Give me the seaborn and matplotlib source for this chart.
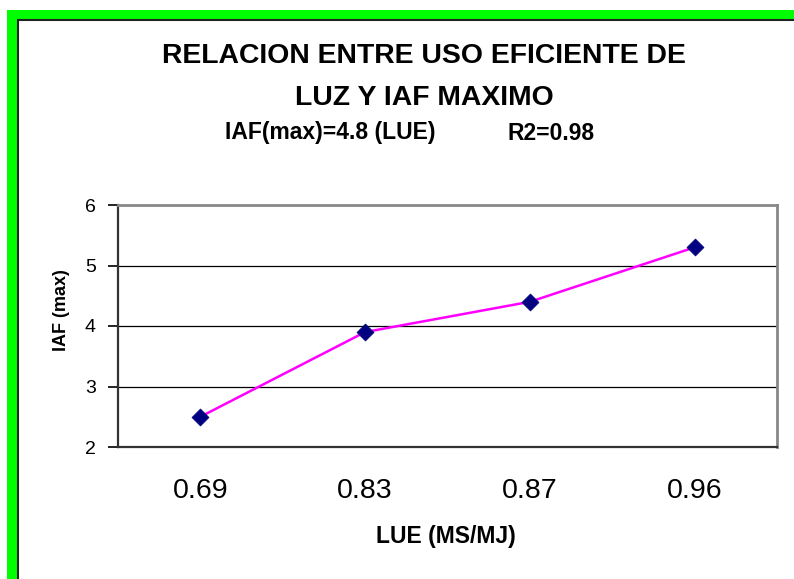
import matplotlib
matplotlib.use("Agg")
import matplotlib.pyplot as plt
from matplotlib.patches import Rectangle
from matplotlib.ticker import FixedLocator
import seaborn as sns
import pandas as pd

# Data
lue_labels = ["0.69", "0.83", "0.87", "0.96"]
iaf_max = [2.5, 3.9, 4.4, 5.3]
y_ticks = [2, 3, 4, 5, 6]

sns.set_style("white")
plt.rcParams["font.family"] = ["Liberation Sans", "DejaVu Sans"]
plt.rcParams["text.color"] = "black"
plt.rcParams["axes.labelcolor"] = "black"
plt.rcParams["xtick.color"] = "black"
plt.rcParams["ytick.color"] = "black"

df = pd.DataFrame({"LUE": lue_labels, "IAF": iaf_max})

W, H = 794, 579
fig = plt.figure(figsize=(W / 100, H / 100), dpi=100)
fig.patch.set_facecolor("white")

def fx(px):
    return px / W

def fy(py):
    return 1 - py / H

# Green frame with dark inner edge
fig.patches.append(Rectangle((fx(7), fy(600)), fx(820) - fx(7), fy(10) - fy(600),
                             transform=fig.transFigure, facecolor="#00FF00",
                             edgecolor="none", zorder=0))
fig.patches.append(Rectangle((fx(17.5), fy(600)), fx(820) - fx(17.5), fy(19.5) - fy(600),
                             transform=fig.transFigure, facecolor="white",
                             edgecolor="#222222", linewidth=1.5, zorder=1))

ax = fig.add_axes([fx(118), fy(447), fx(777) - fx(118), fy(205) - fy(447)])
ax.set_zorder(2)
ax.patch.set_facecolor("white")

sns.lineplot(data=df, x="LUE", y="IAF", color="#FF00FF", linewidth=1.8, ax=ax,
             zorder=3, sort=False)
sns.scatterplot(data=df, x="LUE", y="IAF", color="#000080", marker="D", s=75,
                edgecolor="#000080", linewidth=0.5, ax=ax, zorder=4)

ax.set_xlim(-0.5, len(lue_labels) - 0.5)
ax.set_ylim(2, 6)
ax.set_yticks(y_ticks)
ax.set_yticklabels([str(v) for v in y_ticks], fontsize=14)

# Category labels centred, tick marks on category boundaries
ax.set_xticks(range(len(lue_labels)))
ax.set_xticklabels(lue_labels, fontsize=20.5)
ax.xaxis.set_minor_locator(FixedLocator([i - 0.5 for i in range(len(lue_labels) + 1)]))
ax.tick_params(axis="x", which="major", length=0, pad=22)
ax.tick_params(axis="x", which="minor", length=7, width=1.2, color="black", direction="out")
ax.tick_params(axis="y", which="major", length=7, width=1.2, color="black",
               direction="out", pad=9, left=True)

for y in [3, 4, 5]:
    ax.axhline(y, color="black", linewidth=0.9, zorder=1)

for side in ["left", "bottom"]:
    ax.spines[side].set_color("#333333")
    ax.spines[side].set_linewidth(1.6)
for side in ["top", "right"]:
    ax.spines[side].set_visible(True)
    ax.spines[side].set_color("#888888")
    ax.spines[side].set_linewidth(2)

ax.set_xlabel("")
ax.set_ylabel("")

fig.text(fx(62), fy(310), "IAF (max)", rotation=90, fontsize=13, fontweight="bold",
         ha="center", va="center")
fig.text(fx(446), fy(536), "LUE (MS/MJ)", fontsize=16.5, fontweight="bold",
         ha="center", va="center")

fig.text(fx(424), fy(56), "RELACION ENTRE USO EFICIENTE DE", fontsize=20.4,
         fontweight="bold", ha="center", va="center")
fig.text(fx(424), fy(98), "LUZ Y IAF MAXIMO", fontsize=20.4,
         fontweight="bold", ha="center", va="center")
fig.text(fx(225), fy(133), "IAF(max)=4.8 (LUE)", fontsize=16.5,
         fontweight="bold", ha="left", va="center")
fig.text(fx(595), fy(133), "R2=0.98", fontsize=16.5,
         fontweight="bold", ha="right", va="center")

fig.savefig("out.png", dpi=100)
